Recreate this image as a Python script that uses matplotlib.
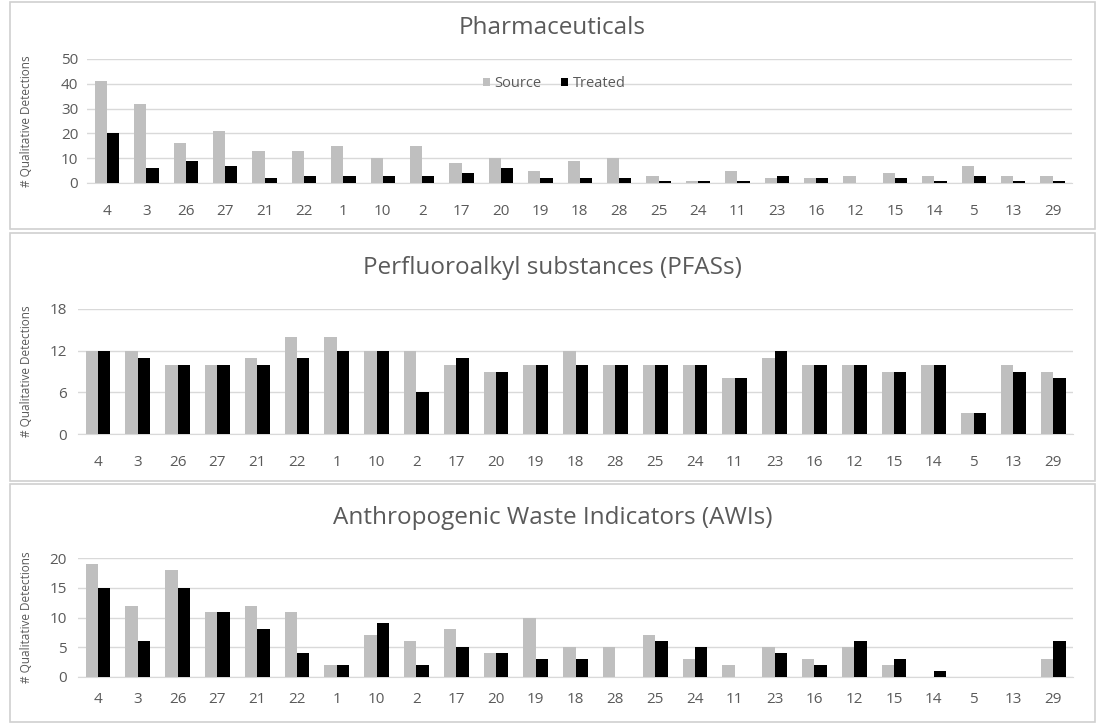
import matplotlib.pyplot as plt
from matplotlib.patches import Rectangle
import numpy as np

# sites, in the order shown on the x axis
sites = ["4", "3", "26", "27", "21", "22", "1", "10", "2", "17", "20", "19", "18",
         "28", "25", "24", "11", "23", "16", "12", "15", "14", "5", "13", "29"]

pharm_source = [41, 32, 16, 21, 13, 13, 15, 10, 15, 8, 10, 5, 9, 10, 3, 1, 5, 2, 2, 3, 4, 3, 7, 3, 3]
pharm_treated = [20, 6, 9, 7, 2, 3, 3, 3, 3, 4, 6, 2, 2, 2, 1, 1, 1, 3, 2, 0, 2, 1, 3, 1, 1]

pfas_source = [12, 12, 10, 10, 11, 14, 14, 12, 12, 10, 9, 10, 12, 10, 10, 10, 8, 11, 10, 10, 9, 10, 3, 10, 9]
pfas_treated = [12, 11, 10, 10, 10, 11, 12, 12, 6, 11, 9, 10, 10, 10, 10, 10, 8, 12, 10, 10, 9, 10, 3, 9, 8]

awi_source = [19, 12, 18, 11, 12, 11, 2, 7, 6, 8, 4, 10, 5, 5, 7, 3, 2, 5, 3, 5, 2, 0, 0, 0, 3]
awi_treated = [15, 6, 15, 11, 8, 4, 2, 9, 2, 5, 4, 3, 3, 0, 6, 5, 0, 4, 2, 6, 3, 1, 0, 0, 6]

plt.rcParams['font.family'] = ['Open Sans', 'DejaVu Sans']
txt = '#5a5a5a'
W, H = 1104, 725

fig = plt.figure(figsize=(W / 100, H / 100), dpi=100)

# panel frames (pixel boxes: x0, y0, x1, y1)
for (x0, y0, x1, y1) in [(10, 2, 1095, 229), (10, 233, 1095, 481), (10, 484, 1095, 722)]:
    fig.add_artist(Rectangle((x0 / W, 1 - y1 / H), (x1 - x0) / W, (y1 - y0) / H,
                             transform=fig.transFigure, fill=False,
                             edgecolor='#d0d0d0', linewidth=1.2))

# title, source, treated, x of first site (px), site step (px), y of 0 (px), y of top (px),
# y max, y ticks, title y (px), x label pad, y label pad
panels = [
    ("Pharmaceuticals", pharm_source, pharm_treated, 107, 39.4, 183, 59, 50,
     [0, 10, 20, 30, 40, 50], 28, 15, 6.5),
    ("Perfluoroalkyl substances (PFASs)", pfas_source, pfas_treated, 98, 39.8, 434, 309, 18,
     [0, 6, 12, 18], 268, 15, 8),
    ("Anthropogenic Waste Indicators (AWIs)", awi_source, awi_treated, 98, 39.8, 677, 558, 20,
     [0, 5, 10, 15, 20], 518, 11, 8),
]

x = np.arange(len(sites))
bw = 0.31
for title, src, trt, x0px, step, ybot, ytop, ymax, yt, ytitle, xpad, ypad in panels:
    left = x0px - 0.5 * step
    width = 25 * step
    ax = fig.add_axes([left / W, 1 - ybot / H, width / W, (ybot - ytop) / H])
    ax.bar(x - bw / 2, src, bw, color='#bfbfbf', label='Source', zorder=3)
    ax.bar(x + bw / 2, trt, bw, color='black', label='Treated', zorder=3)
    ax.set_xlim(-0.5, 24.5)
    ax.set_ylim(0, ymax)
    ax.set_yticks(yt)
    ax.set_xticks(x)
    ax.set_xticklabels(sites)
    ax.tick_params(length=0, colors=txt, labelsize=11)
    ax.tick_params(axis='x', pad=xpad)
    ax.tick_params(axis='y', pad=ypad)
    ax.grid(axis='y', color='#d9d9d9', linewidth=1, zorder=0)
    for s in ['top', 'right', 'left']:
        ax.spines[s].set_visible(False)
    ax.spines['bottom'].set_color('#d9d9d9')
    ax.set_ylabel('# Qualitative Detections', fontsize=8.5, color=txt)
    ax.yaxis.set_label_coords(-(left - 33) / width, 0.5)
    fig.text(0.5 * (10 + 1095) / W, 1 - ytitle / H, title, ha='center', va='center',
             fontsize=17.5, color=txt)
    if title == "Pharmaceuticals":
        ax.legend(loc='upper center', bbox_to_anchor=(0.474, 0.97), ncol=2, frameon=False,
                  fontsize=10.5, handlelength=0.5, handleheight=0.5, handletextpad=0.3,
                  columnspacing=1.3, labelcolor=txt)

fig.savefig('out.png', dpi=100)
